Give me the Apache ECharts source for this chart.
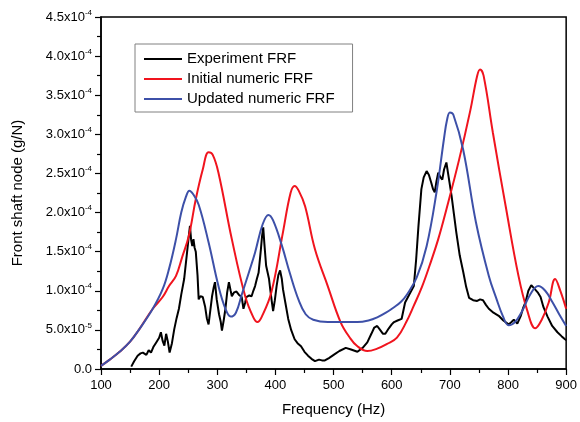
<!DOCTYPE html>
<html>
<head>
<meta charset="utf-8">
<script src="https://cdn.jsdelivr.net/npm/echarts@6/dist/echarts.min.js"></script>
<style>html,body{margin:0;padding:0;background:#fff}#c{width:580px;height:422px}</style>
</head>
<body>
<div id="c"></div>
<script>
// values in units of 1e-4 g/N
const expFreq = [152,157,163,168,172,178,182,186,190,195,200,203,206,209,212,215,218,222,226,230,234,238,243,248,251,253,255,257,259,261,263,266,268,271,275,279,282,285,288,291,294,296,299,303,306,308,311,314,317,320,323,325,329,333,337,342,345,348,350,355,359,362,365,368,371,375,377,379,381,384,387,389,391,394,396,399,402,405,408,411,413,417,422,427,433,438,444,450,456,462,468,475,480,485,492,502,510,521,530,541,550,558,565,570,575,580,585,589,595,600,604,610,617,620,623,630,638,642,646,651,655,660,664,668,671,674,677,680,684,687,690,694,698,703,707,711,717,723,728,733,740,747,752,757,762,767,775,784,792,801,806,810,813,816,818,822,826,830,835,840,845,851,856,861,868,876,885,892,898,900];
const expVal  = [0.03,0.10,0.17,0.20,0.21,0.18,0.24,0.21,0.28,0.34,0.40,0.47,0.36,0.30,0.45,0.35,0.21,0.33,0.51,0.65,0.77,0.95,1.15,1.49,1.70,1.83,1.65,1.57,1.66,1.55,1.50,1.20,0.89,0.93,0.92,0.80,0.65,0.57,0.75,0.93,1.05,1.11,0.89,0.70,0.60,0.49,0.62,0.77,0.98,1.11,1.00,0.93,0.98,0.99,0.95,0.92,0.77,0.85,0.92,0.94,0.93,1.00,1.06,1.15,1.23,1.53,1.70,1.81,1.60,1.32,1.30,1.15,1.02,0.85,0.74,0.88,1.06,1.20,1.26,1.15,1.02,0.85,0.64,0.50,0.38,0.33,0.29,0.22,0.17,0.13,0.10,0.12,0.11,0.11,0.14,0.19,0.23,0.27,0.25,0.22,0.27,0.34,0.45,0.53,0.55,0.50,0.45,0.45,0.52,0.57,0.60,0.62,0.64,0.63,0.85,0.95,1.06,1.40,1.83,2.30,2.45,2.53,2.48,2.38,2.30,2.26,2.40,2.51,2.45,2.42,2.55,2.64,2.45,2.21,1.98,1.75,1.45,1.24,1.05,0.91,0.88,0.87,0.89,0.88,0.82,0.77,0.72,0.68,0.62,0.57,0.60,0.63,0.64,0.58,0.57,0.68,0.78,0.85,1.00,1.07,1.03,0.98,0.92,0.79,0.67,0.55,0.47,0.42,0.38,0.37];

const initFreq = [100,115,132,150,166,189,206,217,229,240,251,263,275,285,292,302,325,348,362,369,376,393,413,426,433,440,451,468,490,512,528,541,558,575,592,609,625,638,652,665,680,694,716,735,747,752,758,774,796,818,833,847,858,870,881,890,900];
const initVal  = [0.04,0.12,0.22,0.35,0.51,0.77,0.92,1.06,1.19,1.44,1.70,2.17,2.55,2.77,2.74,2.51,1.66,0.93,0.66,0.60,0.66,0.98,1.75,2.25,2.34,2.28,2.08,1.53,1.06,0.60,0.40,0.29,0.23,0.26,0.32,0.40,0.60,0.81,1.05,1.32,1.66,2.04,2.68,3.30,3.75,3.83,3.75,3.02,2.08,1.19,0.75,0.52,0.63,0.85,1.15,1.00,0.77];

const updFreq = [100,115,132,150,166,189,206,217,229,238,246,252,258,268,285,302,314,323,332,342,355,365,378,388,396,411,425,440,452,465,490,520,541,560,575,590,604,616,626,643,660,677,690,695,700,706,723,745,767,780,791,801,812,825,838,852,864,876,888,900];
const updVal  = [0.04,0.12,0.22,0.35,0.51,0.77,1.02,1.28,1.66,2.00,2.20,2.28,2.24,2.10,1.62,1.06,0.77,0.67,0.72,0.95,1.25,1.49,1.85,1.97,1.90,1.58,1.22,0.88,0.70,0.63,0.60,0.60,0.60,0.62,0.66,0.72,0.79,0.86,0.95,1.17,1.57,2.26,2.95,3.18,3.28,3.25,2.80,1.87,1.19,0.90,0.68,0.56,0.60,0.75,0.95,1.06,1.00,0.86,0.70,0.55];

const seriesNames = ['Experiment FRF','Initial numeric FRF','Updated numeric FRF'];
const yTickMantissa = ['0.0','5.0','1.0','1.5','2.0','2.5','3.0','3.5','4.0','4.5'];
const yTickExp      = ['','-5','-4','-4','-4','-4','-4','-4','-4','-4'];
const xTicks = [100,200,300,400,500,600,700,800,900];

function pairs(xs, ys){ return xs.map((x,i)=>[x, ys[i]]); }

const FONT = 'Liberation Sans, Arial, sans-serif';
const chart = echarts.init(document.getElementById('c'), null, {renderer:'canvas'});
chart.setOption({
  animation:false,
  backgroundColor:'#fff',
  grid:{left:101,right:9,top:17,bottom:52,show:true,borderColor:'#000',borderWidth:1.5,backgroundColor:'transparent'},
  legend:{
    orient:'vertical', left:135, top:44,
    data:seriesNames.map(n=>({name:n, icon:'rect'})),
    itemWidth:38, itemHeight:2, itemGap:0,
    borderColor:'#808080', borderWidth:1, padding:[5,18,3,9],
    textStyle:{fontFamily:FONT,fontSize:15,color:'#000',lineHeight:20}
  },
  xAxis:{
    type:'value', min:xTicks[0], max:xTicks[xTicks.length-1], interval:100,
    name:'Frequency (Hz)', nameLocation:'middle', nameGap:33,
    nameTextStyle:{fontFamily:FONT,fontSize:15,color:'#000'},
    axisLine:{lineStyle:{color:'#000',width:1.5}},
    axisTick:{length:6,lineStyle:{color:'#000',width:1.2}},
    minorTick:{show:true,splitNumber:2,length:4,lineStyle:{color:'#000',width:1.2}},
    splitLine:{show:false},
    axisLabel:{fontFamily:FONT,fontSize:13,color:'#000',margin:10}
  },
  yAxis:{
    type:'value', min:0, max:4.5, interval:0.5,
    name:'Front shaft node (g/N)', nameLocation:'middle', nameGap:76, nameRotate:90,
    nameTextStyle:{fontFamily:FONT,fontSize:15,color:'#000'},
    axisLine:{show:true,lineStyle:{color:'#000',width:1.5}},
    axisTick:{show:true,length:6,lineStyle:{color:'#000',width:1.2}},
    minorTick:{show:true,splitNumber:2,length:4,lineStyle:{color:'#000',width:1.2}},
    splitLine:{show:false},
    axisLabel:{
      margin:9, color:'#000',
      formatter:function(v){
        const i = Math.round(v/0.5);
        if(!yTickExp[i]) return '{b|'+yTickMantissa[i]+'}';
        return '{b|'+yTickMantissa[i]+'x10}{s|'+yTickExp[i]+'}';
      },
      rich:{
        b:{fontFamily:FONT,fontSize:13,color:'#000'},
        s:{fontFamily:FONT,fontSize:8,color:'#000',padding:[0,0,9,0]}
      }
    }
  },
  series:[
    {name:seriesNames[0],type:'line',data:pairs(expFreq,expVal),symbol:'none',smooth:false,lineStyle:{color:'#000',width:2},itemStyle:{color:'#000'}},
    {name:seriesNames[1],type:'line',data:pairs(initFreq,initVal),symbol:'none',smooth:0.4,lineStyle:{color:'#f0141e',width:2},itemStyle:{color:'#f0141e'}},
    {name:seriesNames[2],type:'line',data:pairs(updFreq,updVal),symbol:'none',smooth:0.4,lineStyle:{color:'#3d50a8',width:2},itemStyle:{color:'#3d50a8'}}
  ]
});
</script>
</body>
</html>
